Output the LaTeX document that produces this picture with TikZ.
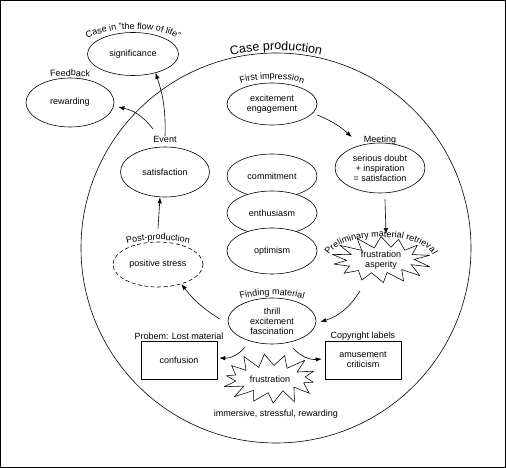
\documentclass[tikz,border=0pt]{standalone}
\usepackage{fontspec}
\setmainfont{Liberation Sans}
\usetikzlibrary{shapes.geometric,arrows.meta,decorations.text,calc}
\newcommand\lblf{\fontsize{9}{10}\selectfont}
\newcommand\bigf{\fontsize{12.5}{14}\selectfont}
\begin{document}
\begin{tikzpicture}[x=1pt,y=1pt,
  line width=0.6pt,
  ell/.style={draw, ellipse, fill=white, inner sep=0pt, align=center, font=\lblf},
  boxnode/.style={draw, rectangle, fill=white, minimum width=76pt, minimum height=38pt, inner sep=0pt, align=center, font=\lblf},
  burstnode/.style={ellipse, inner sep=0pt, align=center, font=\lblf},
  burstline/.style={draw, fill=white, line width=0.55pt, miter limit=3},
  lbl/.style={inner sep=0pt, font=\lblf},
  arr/.style={-{Latex[length=6pt,width=4.5pt]}, line width=0.6pt},
  curvelbl/.style={decorate, decoration={text along path, text align=center, text={#1}}},
]
\useasboundingbox (0,0) rectangle (506,468);
\draw[line width=1.2pt] (0.6,0.8) rectangle (505.2,467.4);

% big circle
\node[draw, circle, minimum size=390pt, inner sep=0pt] (bigc) at (276,220) {};

% nodes
\node[ell, minimum width=91pt, minimum height=43pt] (sig) at (133,414) {significance};
\node[ell, minimum width=88pt, minimum height=49pt] (rew) at (70,365.5) {rewarding};
\node[ell, minimum width=89pt, minimum height=50pt] (sat) at (165,296) {satisfaction};
\node[ell, minimum width=90pt, minimum height=42pt] (exc) at (272,364) {excitement\\engagement};
\node[ell, minimum width=90pt, minimum height=44pt] (com) at (272,292) {commitment};
\node[ell, minimum width=90pt, minimum height=44pt] (ent) at (272,255) {enthusiasm};
\node[ell, minimum width=90pt, minimum height=46pt] (opt) at (272,217) {optimism};
\node[ell, minimum width=90pt, minimum height=50pt] (mee) at (380,300) {serious doubt\\+ inspiration\\= satisfaction};
\node[ell, minimum width=88pt, minimum height=46pt] (fin) at (272,147) {thrill\\excitement\\fascination};
\node[ell, dash pattern=on 4pt off 2.5pt, minimum width=90pt, minimum height=45pt] (pos) at (158,203.5) {positive stress};
\node[boxnode] (con) at (179,108) {confusion};
\node[boxnode] (amu) at (363,108) {amusement\\criticism};

% starbursts
\path[burstline, shift={(381,208)}] plot[samples at={0,...,27}, variable=\k]
  ({(ifthenelse(mod(\k,2)==0,48,35)*(1-0.06*sin(\k*157)))*cos(90+\k*180/14+3*sin(\k*211))},
   {(ifthenelse(mod(\k,2)==0,23.5,12.5)*(1-0.06*sin(\k*157)))*sin(90+\k*180/14+3*sin(\k*211))}) -- cycle;
\node[burstnode, minimum width=96pt, minimum height=47pt] (pre) at (381,208) {frustration\\asperity};
\path[burstline, shift={(270,89)}] plot[samples at={0,...,27}, variable=\k]
  ({(ifthenelse(mod(\k,2)==0,46.5,34)*(1-0.06*sin(\k*131)))*cos(97+\k*180/14+3*sin(\k*173))},
   {(ifthenelse(mod(\k,2)==0,25,13)*(1-0.06*sin(\k*131)))*sin(97+\k*180/14+3*sin(\k*173))}) -- cycle;
\node[burstnode, minimum width=93pt, minimum height=50pt] (fru) at (270,89) {frustration};

% plain labels
\node[lbl] (imm) at (276,54) {immersive, stressful, rewarding};
\node[lbl] (evt) at (165,328.5) {Event};
\node[lbl] (mlab) at (380,328) {Meeting};
\node[lbl] (plab) at (179,132) {Probem: Lost material};
\node[lbl] (clab) at (363,132) {Copyright labels};

% curved labels
\path[curvelbl={|\bigf|Case production}] (bigc.center) ++(120:198) arc[start angle=120, end angle=60, radius=198];
\path[curvelbl={|\lblf|Case in "the flow of life"}] (sig.center) ++(180:57 and 25) arc[start angle=180, end angle=0, x radius=57, y radius=25];
\path[curvelbl={|\lblf|Feedback}] (rew.center) ++(180:80 and 26.5) arc[start angle=180, end angle=0, x radius=80, y radius=26.5];
\path[curvelbl={|\lblf|First impression}] (exc.center) ++(180:55 and 25) arc[start angle=180, end angle=0, x radius=55, y radius=25];
\path[curvelbl={|\lblf|Preliminary material retrieval}] (pre.center) ++(180:53 and 23) arc[start angle=180, end angle=0, x radius=53, y radius=23];
\path[curvelbl={|\lblf|Finding material}] (fin.center) ++(180:60 and 26) arc[start angle=180, end angle=0, x radius=60, y radius=26];
\path[curvelbl={|\lblf|Post-production}] (pos.center) ++(180:60 and 24.5) arc[start angle=180, end angle=0, x radius=60, y radius=24.5];

% connectors
\draw[arr] ($(exc.east)+(0,-11)$) to[bend left=10] ($(mlab.west)+(-12,3)$);
\draw[arr] ($(mee.south)+(5,-6)$) -- ($(pre.center)+(5,26)$);
\draw[arr] ($(pre.center)+(-21,-31)$) to[bend left=20] ($(fin.east)+(4,-1)$);
\draw[arr] ($(fin.west)+(-8,2)$) to[bend left=10] (pos.-40);
\draw[arr] ($(pos.north)+(0,13)$) -- ($(sat.south)+(-5,0)$);
\draw[arr] (evt.north) to[bend right=10] (sig.-40);
\draw[arr] ($(evt.north)+(-12,7)$) to[bend right=20] ($(rew.east)+(4,-4.5)$);
\draw[arr] ($(fin.south)+(-27,-3)$) to[bend left=25] ($(con.east)+(2,2)$);
\draw[arr] ($(fin.south)+(21,-4)$) to[bend right=25] ($(amu.west)+(-3,1)$);
\end{tikzpicture}
\end{document}
